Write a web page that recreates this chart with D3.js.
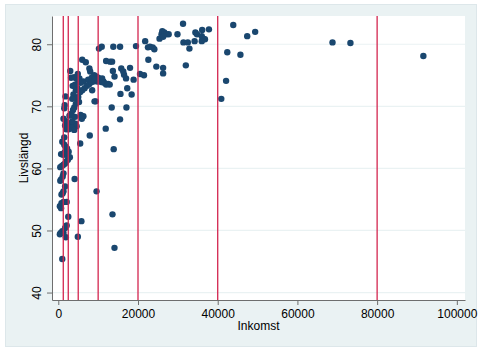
<!DOCTYPE html>
<html>
<head>
<meta charset="utf-8">
<script src="https://cdn.jsdelivr.net/npm/d3@7"></script>
<style>
  body { margin: 0; background: #fff; }
  text { font-family: "Liberation Sans", Arial, sans-serif; }
</style>
</head>
<body>
<div id="container"></div>
<script>
// income (x) and life expectancy (y) per country
var inkomst = [
  91600, 73300, 68800, 43900, 47400, 49400, 45700, 42400, 42100, 40900,
  37800, 36100, 31300, 29900, 34400, 34800, 36000, 36400, 36800, 36000,
  34200, 31400, 32500, 32900, 32000, 25400, 25900, 26100, 26600, 27100,
  27700, 26300, 21800, 22500, 23000, 23700, 24100, 19500, 22600, 24600,
  26300, 26300, 20500, 21500, 18000, 18900, 18400, 17100, 17300, 17000,
  16500, 15800, 16300, 15600, 15500, 15500, 13800, 13900, 13600, 14100,
  13400, 11900, 13500, 13700, 14100, 12000, 13000, 12900, 11300, 12000,
  10900, 10200, 9600, 9400, 9100, 8500, 7900, 7800, 8000, 6000,
  6900, 5800, 5500, 4900, 4100, 3000,
  5300, 6300, 7500, 8400, 9000, 9500, 10000, 10500, 11000, 9800,
  8800, 7800, 7200, 6600, 6000, 5500, 5000, 4800, 5600, 11500,
  10800, 9200, 8300, 12500, 4900,
  3200, 4000, 4500, 5000, 4200, 3600, 4400, 3800, 4600, 3500, 5200,
  1800, 1600, 1500, 4000, 4400, 3700, 3300, 2800, 4200, 5600, 6300, 5900,
  1300, 1900, 2400, 3000, 3800, 4300, 4600, 2000, 2600, 3300, 4000, 1700, 3500, 2200,
  1500, 1000, 1500, 1800, 2200, 2600, 700, 1200, 1600, 2000, 2900, 2400, 2000, 1700, 1300, 900, 500,
  1300, 1100, 700, 500, 1700, 1100, 1300, 800, 2100, 1300, 800, 400, 700,
  2500, 1900, 600, 1300, 1000, 1700, 2100, 400, 1000
];
var livslangd = [
  78.1, 80.2, 80.3, 83.1, 81.3, 82.0, 78.3, 78.7, 74.1, 71.2,
  82.4, 82.3, 83.3, 81.6, 81.9, 81.6, 81.3, 80.9, 80.8, 80.5,
  80.5, 80.3, 80.3, 79.3, 76.6, 80.9, 81.6, 82.1, 81.9, 81.6,
  81.6, 81.2, 80.5, 79.5, 79.6, 79.5, 79.2, 79.7, 77.5, 76.4,
  76.2, 75.3, 75.2, 75.0, 76.2, 74.3, 71.9, 69.8, 72.9, 74.5,
  75.1, 76.1, 75.6, 72.0, 67.9, 79.6, 79.6, 63.1, 52.6, 47.2,
  69.8, 66.4, 77.2, 75.7, 74.8, 77.3, 77.2, 73.5, 74.0, 73.5,
  79.6, 79.3, 56.3, 70.8, 70.8, 72.6, 65.3, 76.1, 75.6, 77.5,
  77.1, 51.5, 64.0, 49.0, 58.3, 75.7,
  74.5, 74.0, 74.3, 74.6, 75.0, 74.8, 74.6, 74.3, 74.5, 74.0,
  74.0, 73.6, 73.3, 72.9, 72.6, 72.3, 71.5, 72.9, 73.8, 73.8,
  73.9, 74.3, 73.9, 73.6, 75.2,
  74.6, 74.7, 74.5, 74.2, 73.5, 73.3, 72.6, 71.9, 71.3, 71.2, 70.7,
  71.6, 70.2, 69.7, 69.8, 70.4, 69.4, 68.8, 68.5, 68.3, 68.6, 68.4, 68.0,
  68.0, 67.6, 67.3, 67.1, 67.0, 67.2, 66.8, 66.3, 66.3, 66.5, 66.2, 66.9, 67.6, 66.8,
  65.0, 64.3, 63.8, 63.5, 63.2, 62.7, 62.3, 62.2, 62.6, 62.2, 61.8, 61.4, 61.1, 60.8, 60.6, 60.4, 60.2,
  59.2, 58.7, 58.2, 58.0, 57.1, 56.0, 56.3, 55.8, 54.6, 54.6, 54.4, 53.9, 53.6,
  52.2, 48.9, 49.6, 49.6, 49.9, 50.4, 50.8, 49.4, 45.4
];
var xTicks = [0, 20000, 40000, 60000, 80000, 100000];
var yTicks = [40, 50, 60, 70, 80];
var xLines = [1250, 2500, 5000, 10000, 20000, 40000, 80000];

var data = inkomst.map(function(d, i) { return { x: d, y: livslangd[i] }; });

var W = 481, H = 351;
var margin = {top: 16, right: 16, bottom: 51, left: 52},
    width = W - margin.left - margin.right,
    height = H - margin.top - margin.bottom;

var root = d3.select("#container")
  .append("svg")
    .attr("width", W)
    .attr("height", H)
    .attr("id", "chart");

// outer graph region
root.append("rect")
  .attr("x", 5.5).attr("y", 4.5)
  .attr("width", 471).attr("height", 342)
  .attr("fill", "#eaf2f3")
  .attr("stroke", "#dde7ea");

var svg = root.append("g")
  .attr("transform", "translate(" + margin.left + "," + margin.top + ")");

// plot region
svg.append("rect")
  .attr("width", width).attr("height", height)
  .attr("fill", "#fff");

var x = d3.scaleLinear()
  .domain([-1580, 102050])
  .range([0, width]);
var y = d3.scaleLinear()
  .domain([38.8, 84.55])
  .range([height, 0]);

// horizontal grid
svg.append("g").selectAll("line")
  .data(yTicks)
  .join("line")
    .attr("x1", 0).attr("x2", width)
    .attr("y1", function(d) { return y(d); })
    .attr("y2", function(d) { return y(d); })
    .attr("stroke", "#eaf2f3")
    .attr("stroke-width", 1.2);

// points
svg.append("g").selectAll("circle")
  .data(data)
  .join("circle")
    .attr("cx", function(d) { return x(d.x); })
    .attr("cy", function(d) { return y(d.y); })
    .attr("r", 3.2)
    .attr("fill", "#1a476f");

// vertical reference lines
svg.append("g").selectAll("line")
  .data(xLines)
  .join("line")
    .attr("x1", function(d) { return x(d); })
    .attr("x2", function(d) { return x(d); })
    .attr("y1", 0).attr("y2", height)
    .attr("stroke", "#d3254f")
    .attr("stroke-width", 1.3);

// X axis
var xAxis = svg.append("g")
  .attr("transform", "translate(0," + height + ")")
  .call(d3.axisBottom(x).tickValues(xTicks).tickFormat(d3.format("d")).tickSize(5).tickSizeOuter(0).tickPadding(4));

// Y axis
var yAxis = svg.append("g")
  .call(d3.axisLeft(y).tickValues(yTicks).tickSize(5).tickSizeOuter(0));

[xAxis, yAxis].forEach(function(a) {
  a.select(".domain").attr("stroke", "#6e6e6e");
  a.selectAll(".tick line").attr("stroke", "#6e6e6e");
  a.selectAll("text")
    .attr("fill", "#000")
    .style("font-size", "12px")
    .style("font-family", "'Liberation Sans', Arial, sans-serif");
});

yAxis.selectAll(".tick text")
  .attr("x", null).attr("dy", null)
  .attr("text-anchor", "middle")
  .attr("transform", "translate(-11,0) rotate(-90)");

// axis titles
svg.append("text")
  .attr("x", width / 2)
  .attr("y", height + 30)
  .attr("text-anchor", "middle")
  .style("font-size", "12px")
  .text("Inkomst");

svg.append("text")
  .attr("transform", "translate(-24," + (height / 2) + ") rotate(-90)")
  .attr("text-anchor", "middle")
  .style("font-size", "12px")
  .text("Livslängd");
</script>
</body>
</html>
